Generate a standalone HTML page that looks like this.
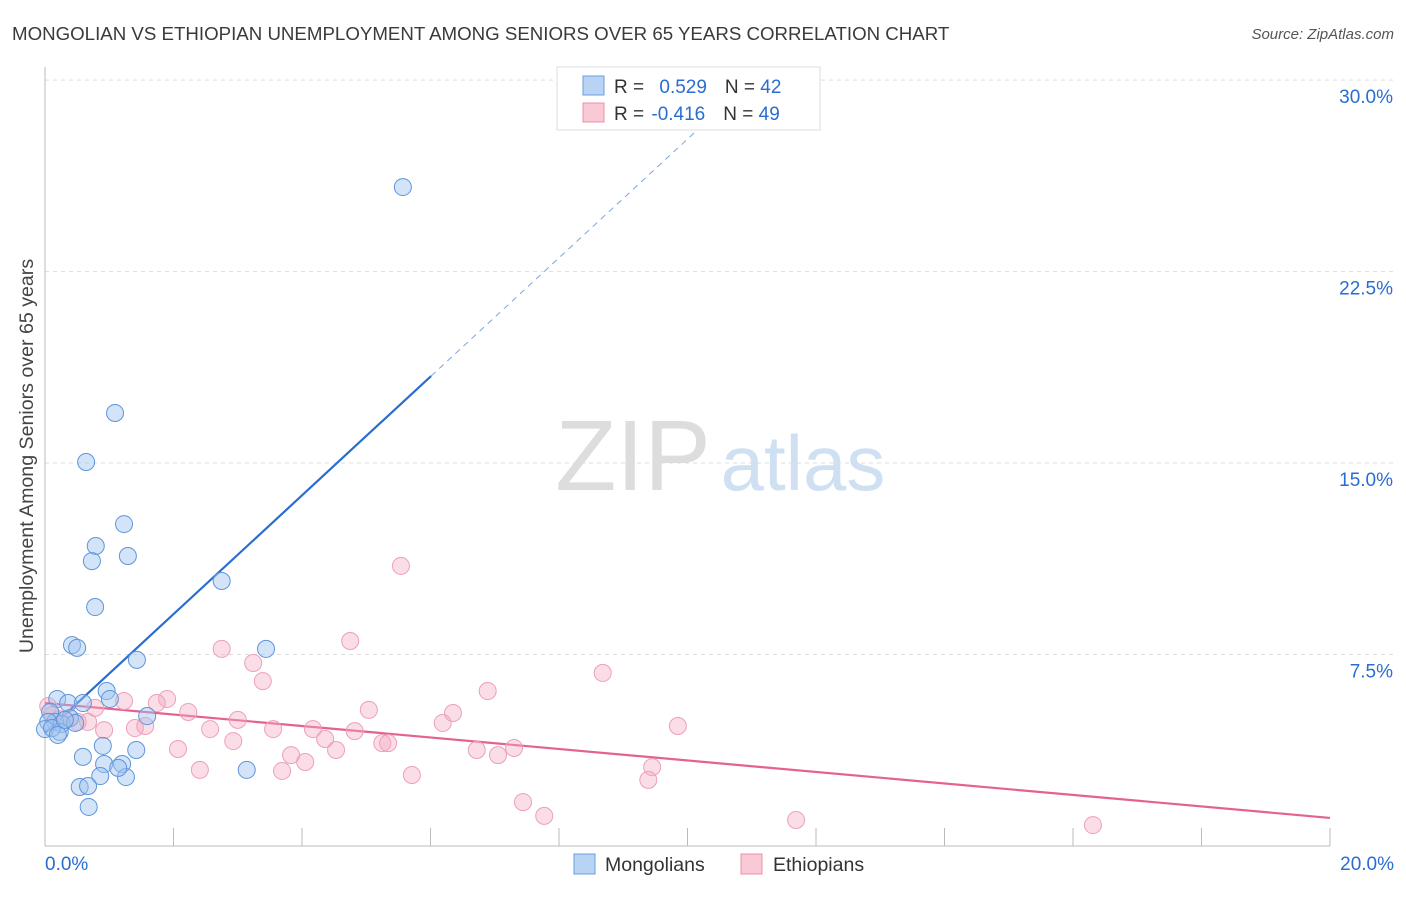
<!DOCTYPE html>
<html><head><meta charset="utf-8"><style>
body{margin:0;background:#fff;font-family:"Liberation Sans",sans-serif}
svg text{font-family:"Liberation Sans",sans-serif}
</style></head><body>
<svg id="c" width="1406" height="892">
<text x="12" y="40" font-size="18.7" fill="#3a3a3a">MONGOLIAN VS ETHIOPIAN UNEMPLOYMENT AMONG SENIORS OVER 65 YEARS CORRELATION CHART</text>
<text x="1394" y="39" font-size="15" fill="#555" font-style="italic" text-anchor="end">Source: ZipAtlas.com</text>
<text x="0" y="0" transform="translate(33,456) rotate(-90)" font-size="19.6" fill="#444" text-anchor="middle">Unemployment Among Seniors over 65 years</text>
<g><text x="633" y="490" font-size="100" font-family="Liberation Serif" fill="#ddd" text-anchor="middle">ZIP</text><text x="803" y="490" font-size="78" fill="#cfe0f3" text-anchor="middle">atlas</text></g>
<g id="grid"></g><g id="axes"></g><g id="lines"></g><g id="pts"></g>
<g>
<rect x="557" y="67" width="263" height="63" fill="#fff" stroke="#ddd"/>
<rect x="583" y="76" width="21" height="19" fill="#b8d3f3" stroke="#6a9de0"/>
<rect x="583" y="103" width="21" height="19" fill="#f9c9d6" stroke="#ec8fab"/>
<text x="614" y="93" font-size="19" fill="#333">R = <tspan fill="#2a6dd0" dx="10">0.529</tspan><tspan dx="18">N = </tspan><tspan fill="#2a6dd0">42</tspan></text>
<text x="614" y="120" font-size="19" fill="#333">R = <tspan fill="#2a6dd0" dx="2">-0.416</tspan><tspan dx="18">N = </tspan><tspan fill="#2a6dd0">49</tspan></text>
</g>
<g>
<rect x="574" y="854" width="21" height="20" fill="#b8d3f3" stroke="#6a9de0"/>
<text x="605" y="871" font-size="19.5" fill="#333">Mongolians</text>
<rect x="741" y="854" width="21" height="20" fill="#f9c9d6" stroke="#ec8fab"/>
<text x="773" y="871" font-size="19.5" fill="#333">Ethiopians</text>
</g>
</svg>
<script>
const blueX=[5.57,1.09,0.64,1.23,0.79,1.29,0.73,0.78,2.75,0.42,0.50,3.44,1.43,0.96,0.19,1.01,1.59,0.36,0.59,0.08,0.39,0.16,0.05,0.26,0.47,0.23,0.00,0.11,0.90,1.42,0.59,0.92,1.20,0.86,1.26,1.14,3.14,0.54,0.67,0.68,0.20,0.31];
const blueY=[25.81,16.96,15.04,12.61,11.75,11.36,11.16,9.36,10.38,7.87,7.76,7.72,7.29,6.07,5.76,5.76,5.09,5.60,5.60,5.25,5.01,4.86,4.86,4.78,4.82,4.47,4.58,4.62,3.92,3.76,3.49,3.21,3.21,2.74,2.70,3.06,2.98,2.31,2.35,1.53,4.35,4.94];
const pinkX=[5.54,4.75,2.75,3.24,3.39,1.90,1.74,2.23,3.00,2.57,3.55,2.93,2.07,2.41,3.69,3.83,4.05,4.17,4.36,4.53,4.82,5.04,5.25,5.34,5.71,6.19,6.35,6.89,6.72,7.05,7.30,7.44,7.77,8.68,9.85,9.45,9.39,16.31,11.69,0.05,0.11,0.23,0.39,0.51,0.67,0.78,0.92,1.23,1.40,1.56];
const pinkY=[10.97,8.03,7.72,7.17,6.46,5.76,5.60,5.25,4.94,4.58,4.58,4.11,3.80,2.98,2.94,3.56,3.29,4.58,4.19,3.76,4.50,5.33,4.03,4.03,2.78,4.82,5.21,6.07,3.76,3.56,3.84,1.72,1.18,6.78,4.70,3.09,2.59,0.82,1.02,5.48,5.13,4.97,5.01,4.86,4.86,5.41,4.54,5.68,4.62,4.70];
const yTicks=[7.5,15,22.5,30];
const yTickLabels=["7.5%","15.0%","22.5%","30.0%"];
const xTickLabels=["0.0%","20.0%"];
const blueTrend=[4.43,2.326]; // intercept, slope
const pinkTrend=[5.60,-0.225];
const X=v=>45+v*64.25, Y=v=>846-v*25.53;
const NS="http://www.w3.org/2000/svg";
function mk(p,t,a){const e=document.createElementNS(NS,t);for(const k in a)e.setAttribute(k,a[k]);document.getElementById(p).appendChild(e);return e;}
yTicks.forEach((v,i)=>{
 const l=mk('grid','line',{x1:45,x2:1394,y1:Y(v),y2:Y(v),stroke:'#ddd','stroke-dasharray':'4,4'});
 
 
 const t=mk('grid','text',{x:1393,y:Y(v)+23,'font-size':19,fill:'#2a6dd0','text-anchor':'end'});t.textContent=yTickLabels[i];
 
 
});
let a=mk('axes','line',{x1:45,x2:45,y1:67,y2:846,stroke:'#bbb'});


a=mk('axes','line',{x1:45,x2:1330,y1:846,y2:846,stroke:'#bbb'});


for(let i=1;i<=10;i++){const t=mk('axes','line',{x1:X(i*2),x2:X(i*2),y1:828,y2:846,stroke:'#bbb'});
 
 }
[[0,'start',45],[20,'end',1394]].forEach((d,i)=>{const t=mk('axes','text',{x:d[2],y:870,'font-size':19,fill:'#2a6dd0','text-anchor':d[1]});t.textContent=xTickLabels[i];
 
 });
const bx1=6.01, bx2=(30-blueTrend[0])/blueTrend[1];
let L=mk('lines','line',{x1:X(0),y1:Y(blueTrend[0]),x2:X(bx1),y2:Y(blueTrend[0]+blueTrend[1]*bx1),stroke:'#2a6dd0','stroke-width':2.2});


L=mk('lines','line',{x1:X(bx1),y1:Y(blueTrend[0]+blueTrend[1]*bx1),x2:X(bx2),y2:Y(30),stroke:'#7aa6e0','stroke-width':1,'stroke-dasharray':'6,5'});


L=mk('lines','line',{x1:X(0),y1:Y(pinkTrend[0]),x2:X(20),y2:Y(pinkTrend[0]+pinkTrend[1]*20),stroke:'#e4628c','stroke-width':2.2});


pinkX.forEach((v,i)=>{const c=mk('pts','circle',{cx:X(v),cy:Y(pinkY[i]),r:8.5,fill:'rgba(245,170,195,0.4)',stroke:'#eda0b8','stroke-width':1});
 
 });
blueX.forEach((v,i)=>{const c=mk('pts','circle',{cx:X(v),cy:Y(blueY[i]),r:8.5,fill:'rgba(160,195,240,0.45)',stroke:'#5e95dc','stroke-width':1});
 
 });
</script>
</body></html>
